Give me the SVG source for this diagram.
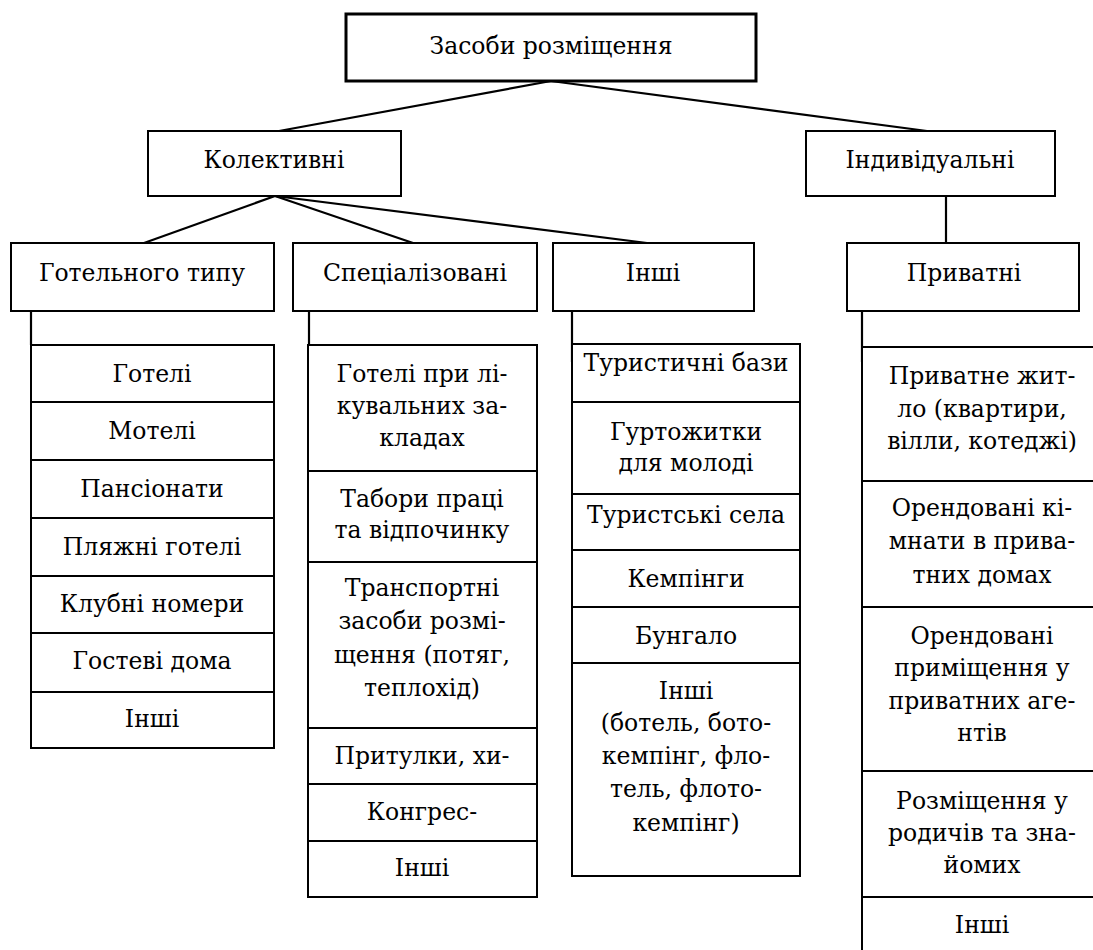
<svg xmlns="http://www.w3.org/2000/svg" width="1093" height="950" viewBox="0 0 1093 950">
<style>
.n rect{fill:#fff;stroke:#000;stroke-width:2}
.c line{stroke:#000;stroke-width:2.2}
text{font-family:"DejaVu Serif","Liberation Serif",serif;font-size:23.5px;fill:#000;text-anchor:middle;dominant-baseline:central}
</style>
<rect width="1093" height="950" fill="#fff"/>
<g class="c" id="connectors">
<line x1="551" y1="81" x2="279" y2="131"/>
<line x1="551" y1="81" x2="927" y2="131"/>
<line x1="275" y1="196" x2="144" y2="243"/>
<line x1="275" y1="196" x2="413" y2="243"/>
<line x1="275" y1="196" x2="647" y2="243"/>
<line x1="946" y1="196" x2="946" y2="243"/>
<line x1="31" y1="311" x2="31" y2="345"/>
<line x1="309" y1="311" x2="309" y2="345"/>
<line x1="572" y1="311" x2="572" y2="362"/>
<line x1="862" y1="311" x2="862" y2="362"/>
</g>
<g class="n" id="root"><rect x="346" y="14" width="410" height="67" style="stroke-width:3"/><text x="551" y="46">Засоби розміщення</text></g>
<g class="n" id="kolektyvni"><rect x="148" y="131" width="253" height="65"/><text x="274" y="160">Колективні</text></g>
<g class="n" id="indyvidualni"><rect x="806" y="131" width="249" height="65"/><text x="930" y="160">Індивідуальні</text></g>
<g class="n" id="hotel-type"><rect x="11" y="243" width="263" height="68"/><text x="142" y="273">Готельного типу</text></g>
<g class="n" id="specialized"><rect x="293" y="243" width="244" height="68"/><text x="415" y="273">Спеціалізовані</text></g>
<g class="n" id="other"><rect x="553" y="243" width="201" height="68"/><text x="653" y="273">Інші</text></g>
<g class="n" id="private"><rect x="847" y="243" width="232" height="68"/><text x="964" y="273">Приватні</text></g>

<g class="n" id="col1">
<rect x="31" y="345" width="243" height="57"/><text x="152" y="374">Готелі</text>
<rect x="31" y="402" width="243" height="58"/><text x="152" y="431">Мотелі</text>
<rect x="31" y="460" width="243" height="58"/><text x="152" y="489">Пансіонати</text>
<rect x="31" y="518" width="243" height="58"/><text x="152" y="547">Пляжні готелі</text>
<rect x="31" y="576" width="243" height="57"/><text x="152" y="604">Клубні номери</text>
<rect x="31" y="633" width="243" height="59"/><text x="152" y="661">Гостеві дома</text>
<rect x="31" y="692" width="243" height="56"/><text x="152" y="719">Інші</text>
</g>

<g class="n" id="col2">
<rect x="308" y="345" width="229" height="126"/><text x="422"><tspan x="422" y="374">Готелі при лі-</tspan><tspan x="422" y="406">кувальних за-</tspan><tspan x="422" y="438">кладах</tspan></text>
<rect x="308" y="471" width="229" height="91"/><text x="422"><tspan x="422" y="499">Табори праці</tspan><tspan x="422" y="530">та відпочинку</tspan></text>
<rect x="308" y="562" width="229" height="166"/><text x="422"><tspan x="422" y="588">Транспортні</tspan><tspan x="422" y="621">засоби розмі-</tspan><tspan x="422" y="655">щення (потяг,</tspan><tspan x="422" y="688">теплохід)</tspan></text>
<rect x="308" y="728" width="229" height="56"/><text x="422" y="756">Притулки, хи-</text>
<rect x="308" y="784" width="229" height="57"/><text x="422" y="812">Конгрес-</text>
<rect x="308" y="841" width="229" height="56"/><text x="422" y="868">Інші</text>
</g>

<g class="n" id="col3">
<rect x="572" y="344" width="228" height="58"/><text x="686" y="363">Туристичні бази</text>
<rect x="572" y="402" width="228" height="92"/><text x="686"><tspan x="686" y="432">Гуртожитки</tspan><tspan x="686" y="463">для молоді</tspan></text>
<rect x="572" y="494" width="228" height="56"/><text x="686" y="515">Туристські села</text>
<rect x="572" y="550" width="228" height="57"/><text x="686" y="579">Кемпінги</text>
<rect x="572" y="607" width="228" height="56"/><text x="686" y="636">Бунгало</text>
<rect x="572" y="663" width="228" height="213"/><text x="686"><tspan x="686" y="691">Інші</tspan><tspan x="686" y="723">(ботель, бото-</tspan><tspan x="686" y="756">кемпінг, фло-</tspan><tspan x="686" y="789">тель, флото-</tspan><tspan x="686" y="823">кемпінг)</tspan></text>
</g>

<g class="n" id="col4">
<rect x="862" y="347" width="240" height="134"/><text x="982"><tspan x="982" y="376">Приватне жит-</tspan><tspan x="982" y="409">ло (квартири,</tspan><tspan x="982" y="441">вілли, котеджі)</tspan></text>
<rect x="862" y="481" width="240" height="126"/><text x="982"><tspan x="982" y="508">Орендовані кі-</tspan><tspan x="982" y="541">мнати в прива-</tspan><tspan x="982" y="575">тних домах</tspan></text>
<rect x="862" y="607" width="240" height="164"/><text x="982"><tspan x="982" y="636">Орендовані</tspan><tspan x="982" y="668">приміщення у</tspan><tspan x="982" y="701">приватних аге-</tspan><tspan x="982" y="733">нтів</tspan></text>
<rect x="862" y="771" width="240" height="126"/><text x="982"><tspan x="982" y="801">Розміщення у</tspan><tspan x="982" y="833">родичів та зна-</tspan><tspan x="982" y="865">йомих</tspan></text>
<rect x="862" y="897" width="240" height="70"/><text x="982" y="925">Інші</text>
</g>
</svg>
